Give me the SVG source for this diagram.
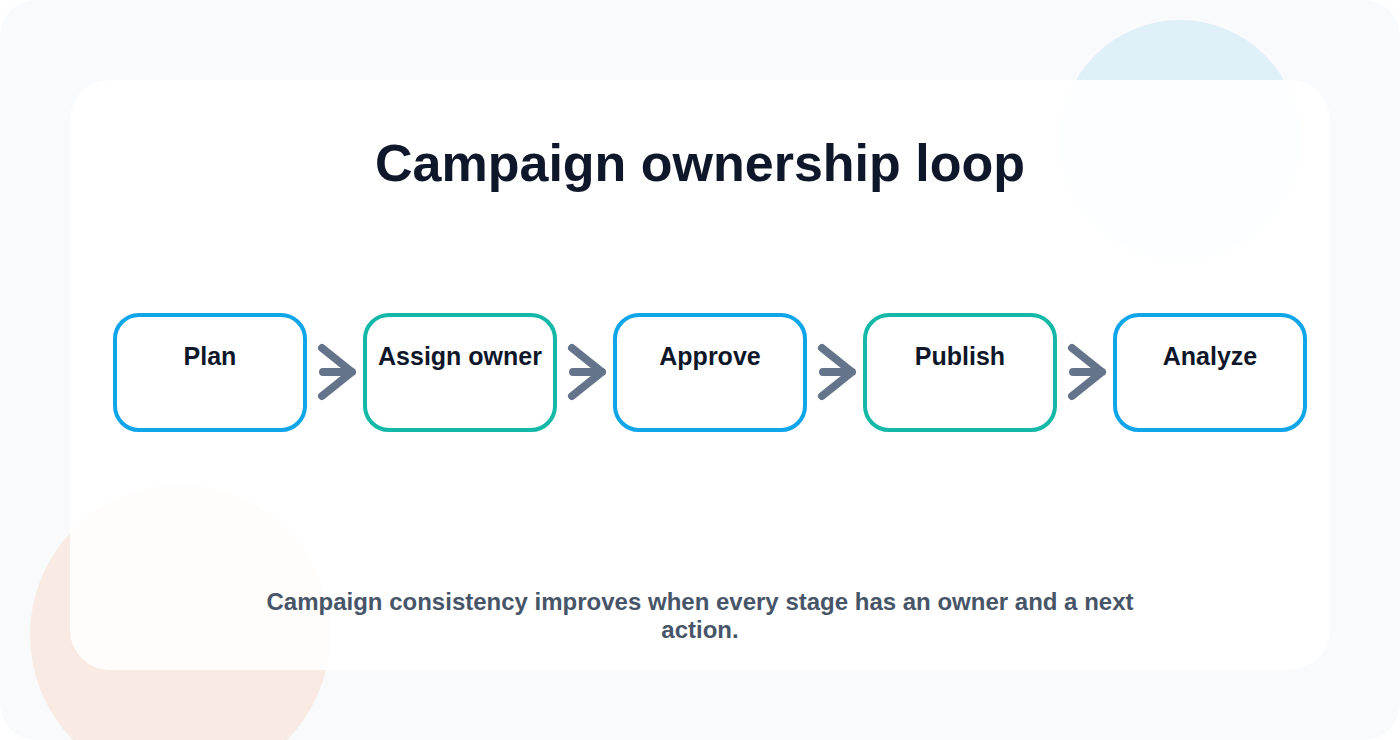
<svg xmlns="http://www.w3.org/2000/svg" width="1400" height="740" viewBox="0 0 1400 740">
  <defs>
    <style>
      .node rect { fill: #ffffff; stroke-width: 4; }
      .blue rect { stroke: #0ea5e9; }
      .teal rect { stroke: #14b8a6; }
      .label { font-family: "Liberation Sans", Arial, sans-serif; font-weight: bold; font-size: 25px; fill: #0f172a; text-anchor: middle; }
      .conn path { fill: none; stroke: #64748b; stroke-width: 8; stroke-linecap: round; stroke-linejoin: round; }
      .title { font-family: "Liberation Sans", Arial, sans-serif; font-weight: bold; font-size: 52px; fill: #0f172a; text-anchor: middle; }
      .sub { font-family: "Liberation Sans", Arial, sans-serif; font-weight: bold; font-size: 24px; fill: #475569; text-anchor: middle; }
    </style>
  </defs>
  <rect x="0" y="0" width="1400" height="740" rx="36" fill="#f8fafc"/>
  <circle cx="1180" cy="140" r="120" fill="#e0f0f9"/>
  <circle cx="180" cy="635" r="150" fill="#f9ebe3"/>
  <rect x="70" y="80" width="1260" height="590" rx="40" fill="#ffffff" fill-opacity="0.88"/>
  <text class="title" x="700" y="181">Campaign ownership loop</text>

  <g id="connectors" class="conn">
    <path d="M322 348 L352 372 L322 396 M323 372 H352"/>
    <path d="M572 348 L602 372 L572 396 M573 372 H602"/>
    <path d="M822 348 L852 372 L822 396 M823 372 H852"/>
    <path d="M1072 348 L1102 372 L1072 396 M1073 372 H1102"/>
  </g>

  <g id="node-plan" class="node blue">
    <rect x="115" y="315" width="190" height="115" rx="24"/>
    <text class="label" x="210" y="365">Plan</text>
  </g>
  <g id="node-assign" class="node teal">
    <rect x="365" y="315" width="190" height="115" rx="24"/>
    <text class="label" x="460" y="365">Assign owner</text>
  </g>
  <g id="node-approve" class="node blue">
    <rect x="615" y="315" width="190" height="115" rx="24"/>
    <text class="label" x="710" y="365">Approve</text>
  </g>
  <g id="node-publish" class="node teal">
    <rect x="865" y="315" width="190" height="115" rx="24"/>
    <text class="label" x="960" y="365">Publish</text>
  </g>
  <g id="node-analyze" class="node blue">
    <rect x="1115" y="315" width="190" height="115" rx="24"/>
    <text class="label" x="1210" y="365">Analyze</text>
  </g>

  <text class="sub" x="700" y="610">Campaign consistency improves when every stage has an owner and a next</text>
  <text class="sub" x="700" y="638">action.</text>
</svg>
